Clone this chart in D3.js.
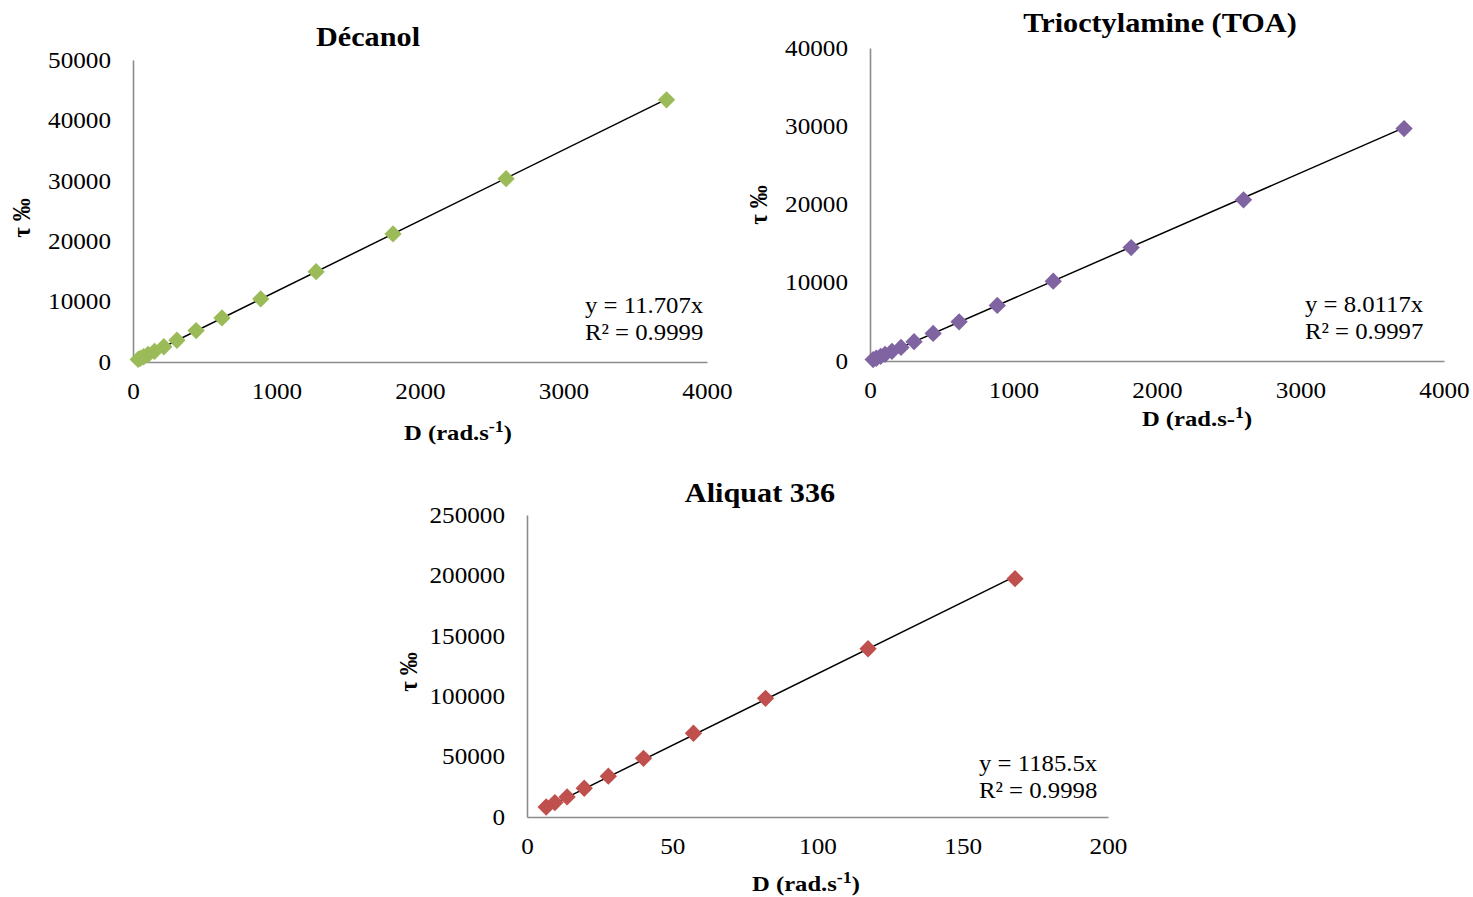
<!DOCTYPE html>
<html><head><meta charset="utf-8">
<script src="https://cdn.jsdelivr.net/npm/d3@7"></script>
<style>
html,body{margin:0;padding:0;background:#fff;}
svg{display:block;font-family:"Liberation Serif","Times New Roman",serif;}
</style></head>
<body>
<svg id="chart" width="1473" height="897"></svg>
<script>
// ---------- data ----------
const decanolD   = [3718, 2600, 1812, 1276, 890, 620, 440, 306, 215, 150, 105, 74, 51, 36];
const decanolTau = [43400, 30350, 21200, 14950, 10450, 7300, 5200, 3600, 2530, 1760, 1240, 870, 600, 420];
const toaD       = [3722, 2603, 1820, 1277, 887, 621, 440, 307, 216, 153, 105, 74, 44, 22];
const toaTau     = [29700, 20600, 14500, 10200, 7100, 5000, 3520, 2470, 1730, 1230, 850, 590, 350, 180];
const aliquatD   = [168, 117.4, 82.1, 57.3, 40.1, 28.0, 19.7, 13.8, 9.6, 6.6];
const aliquatTau = [197300, 139300, 98200, 69300, 48600, 33800, 23800, 16600, 11900, 8300];

const decanolXTicks = [0, 1000, 2000, 3000, 4000];
const decanolYTicks = [0, 10000, 20000, 30000, 40000, 50000];
const toaXTicks     = [0, 1000, 2000, 3000, 4000];
const toaYTicks     = [0, 10000, 20000, 30000, 40000];
const aliquatXTicks = [0, 50, 100, 150, 200];
const aliquatYTicks = [0, 50000, 100000, 150000, 200000, 250000];

const titles    = ["Décanol", "Trioctylamine (TOA)", "Aliquat 336"];
const slopes    = [11.707, 8.0117, 1185.5];
const eqLabels  = ["y = 11.707x", "y = 8.0117x", "y = 1185.5x"];
const r2Labels  = ["R² = 0.9999", "R² = 0.9997", "R² = 0.9998"];
const yLabel    = "τ ‰";

// ---------- layout ----------
const panels = [
  {D: decanolD, T: decanolTau, xt: decanolXTicks, yt: decanolYTicks, color: "#9BBB59",
   x0: 133, x1: 707, y0: 362, y1: 60, title: [368, 46], xlab: [458, 440], ylab: [21, 218],
   eq: [585, 313], supSplit: "-1"},
  {D: toaD, T: toaTau, xt: toaXTicks, yt: toaYTicks, color: "#8064A2",
   x0: 870, x1: 1444, y0: 361, y1: 48, title: [1160, 32], xlab: [1197, 426], ylab: [758, 205],
   eq: [1305, 312], supSplit: "1"},
  {D: aliquatD, T: aliquatTau, xt: aliquatXTicks, yt: aliquatYTicks, color: "#C0504D",
   x0: 527, x1: 1108, y0: 817, y1: 515, title: [760, 502], xlab: [806, 891], ylab: [408, 672],
   eq: [979, 771], supSplit: "-1"}
];

const SX = 1.12; // horizontal stretch of the reference's lettering
const svg = d3.select("#chart");
const axisColor = "#8c8c8c";
const tickFont = 22.5;

function stretchedText(parent, x, y, sx = SX) {
  return parent.append("g").attr("transform", `translate(${x},${y}) scale(${sx},1)`).append("text");
}

panels.forEach((p, i) => {
  const x = d3.scaleLinear().domain([p.xt[0], p.xt[p.xt.length-1]]).range([p.x0, p.x1]);
  const y = d3.scaleLinear().domain([p.yt[0], p.yt[p.yt.length-1]]).range([p.y0, p.y1]);
  const g = svg.append("g");

  // axes
  const xAxis = g.append("g").attr("transform", `translate(0,${p.y0})`)
    .call(d3.axisBottom(x).tickValues(p.xt).tickSize(0).tickPadding(21).tickFormat(d3.format("d")));
  const yAxis = g.append("g").attr("transform", `translate(${p.x0},0)`)
    .call(d3.axisLeft(y).tickValues(p.yt).tickSize(0).tickPadding(22).tickFormat(d3.format("d")));
  [xAxis, yAxis].forEach(a => {
    a.select(".domain").attr("stroke", axisColor).attr("stroke-width", 1.6);
    a.selectAll("text").attr("font-family", "Liberation Serif").attr("font-size", tickFont).attr("fill", "#000")
      .attr("transform", `scale(${SX},1)`);
  });
  yAxis.selectAll("text").attr("x", -22 / SX);

  // trendline
  const dmin = d3.min(p.D), dmax = d3.max(p.D);
  g.append("line")
    .attr("x1", x(dmin)).attr("y1", y(slopes[i]*dmin))
    .attr("x2", x(dmax)).attr("y2", y(slopes[i]*dmax))
    .attr("stroke", "#000").attr("stroke-width", 1.5);

  // markers
  g.selectAll("path.pt").data(p.D.map((d, k) => [d, p.T[k]])).enter().append("path")
    .attr("class", "pt")
    .attr("d", d3.symbol().type(d3.symbolSquare).size(150)())
    .attr("transform", d => `translate(${x(d[0])},${y(d[1])}) rotate(45)`)
    .attr("fill", p.color);

  // title
  stretchedText(g, p.title[0], p.title[1]).attr("text-anchor", "middle")
    .attr("font-weight", "bold").attr("font-size", 27).text(titles[i]);

  // x label
  const xl = stretchedText(g, p.xlab[0], p.xlab[1]).attr("text-anchor", "middle")
    .attr("font-weight", "bold").attr("font-size", 22);
  if (p.supSplit === "-1") {
    xl.append("tspan").text("D (rad.s");
    xl.append("tspan").attr("font-size", 16).attr("dy", -8).text("-1");
    xl.append("tspan").attr("dy", 8).text(")");
  } else {
    xl.append("tspan").text("D (rad.s-");
    xl.append("tspan").attr("font-size", 16).attr("dy", -8).text("1");
    xl.append("tspan").attr("dy", 8).text(")");
  }

  // y label
  g.append("text").attr("transform", `translate(${p.ylab[0]},${p.ylab[1]}) rotate(-90) scale(1.05,${SX})`)
    .attr("text-anchor", "middle").attr("dy", "0.35em")
    .attr("font-weight", "bold").attr("font-size", 22).text(yLabel);

  // equation
  stretchedText(g, p.eq[0], p.eq[1], 1.1).attr("font-size", 22.5).text(eqLabels[i]);
  stretchedText(g, p.eq[0], p.eq[1] + 27, 1.1).attr("font-size", 22.5).text(r2Labels[i]);
});
</script>
</body></html>
